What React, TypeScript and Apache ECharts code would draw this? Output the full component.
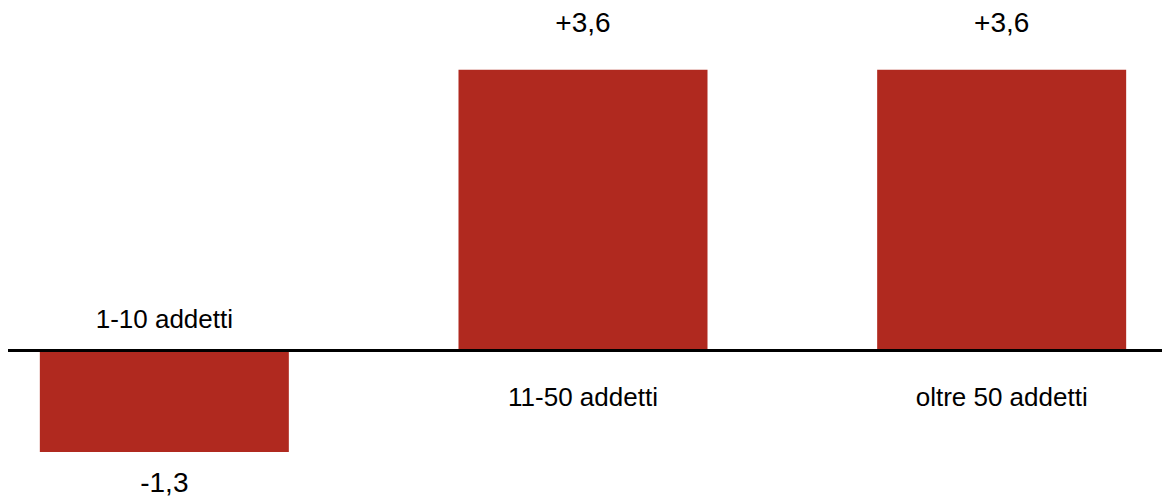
import React, { useEffect, useRef } from "react";
import * as echarts from "echarts";

// Variazione per classe di addetti
const categories = ["1-10 addetti", "11-50 addetti", "oltre 50 addetti"];
const values = [-1.3, 3.6, 3.6];
// Which side of the zero line each category name sits on
const nameSide = ["top", "bottom", "bottom"];

const BAR_COLOR = "#B0291F";
const FONT = "'Liberation Sans', Arial, sans-serif";

const fmt = (v: number) => (v > 0 ? "+" : "") + v.toFixed(1).replace(".", ",");

export default function App() {
  const ref = useRef<HTMLDivElement>(null);

  useEffect(() => {
    if (!ref.current) return;
    const chart = echarts.init(ref.current, undefined, { renderer: "svg" });
    chart.setOption({
      animation: false,
      grid: { left: 0, right: 0, top: 30.5, bottom: 29.5 },
      xAxis: {
        type: "category",
        data: categories,
        z: 10,
        axisLine: { show: true, onZero: true, lineStyle: { color: "#000", width: 3 } },
        axisTick: { show: false },
        axisLabel: { show: false },
        splitLine: { show: false },
      },
      yAxis: {
        type: "value",
        min: -1.5,
        max: 4,
        show: false,
        splitLine: { show: false },
      },
      series: [
        {
          type: "bar",
          barWidth: 249,
          itemStyle: { color: BAR_COLOR },
          data: values.map((v) => ({
            value: v,
            label: {
              show: true,
              position: v >= 0 ? "top" : "bottom",
              distance: v >= 0 ? 33 : 17,
              formatter: () => fmt(v),
              fontSize: 28,
              fontFamily: FONT,
              color: "#000",
            },
          })),
        },
        {
          type: "scatter",
          symbolSize: 0,
          silent: true,
          itemStyle: { opacity: 1 },
          data: categories.map((c, i) => ({
            value: 0,
            label: {
              show: true,
              position: nameSide[i],
              distance: nameSide[i] === "top" ? 19 : 33,
              formatter: () => c,
              fontSize: 26,
              fontFamily: FONT,
              color: "#000",
              opacity: 1,
            },
          })),
        },
      ],
    });
    return () => chart.dispose();
  }, []);

  // The plot is wider than the page; the outer box trims it at the page edges.
  return (
    <div
      style={{
        position: "absolute",
        left: 8,
        top: 8,
        width: 1154,
        height: 489,
        overflow: "hidden",
      }}
    >
      <div
        ref={ref}
        style={{ position: "absolute", left: -53, top: 0, width: 1256, height: 489 }}
      />
    </div>
  );
}
